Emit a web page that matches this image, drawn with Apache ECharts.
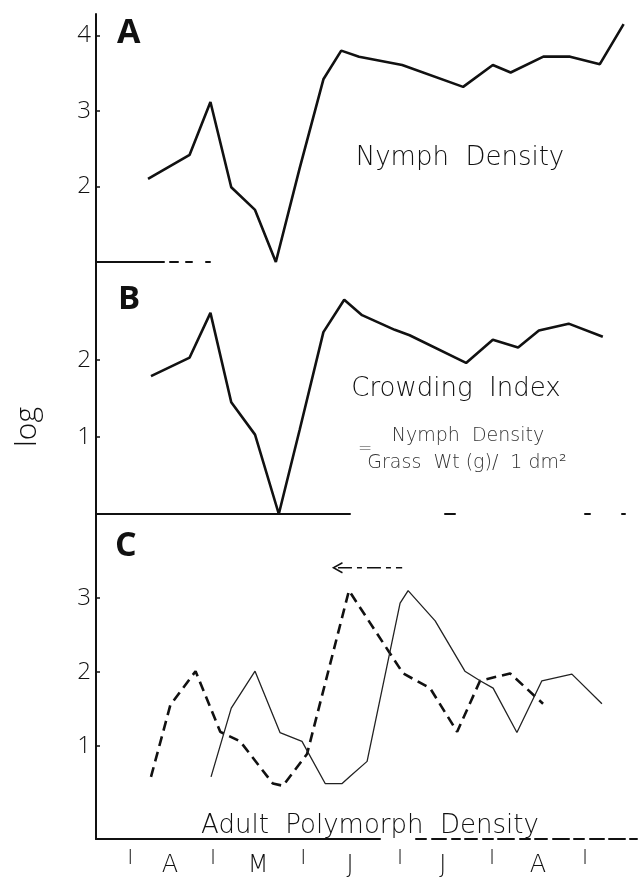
<!DOCTYPE html>
<html>
<head>
<meta charset="utf-8">
<script src="https://cdn.jsdelivr.net/npm/echarts@6/dist/echarts.min.js"></script>
<style>
html,body{margin:0;padding:0;background:#fff;}
#chart{width:639px;height:878px;}
</style>
</head>
<body>
<div id="chart"></div>
<script>
// ---- data (x = day counted from 1 March) ----
const monthTicks = [31, 58.9, 89.2, 121.8, 152.7, 184.0];
const monthLabelPos = [44.4, 74, 105, 136.2, 168.2];
const monthLabels = ['A', 'M', 'J', 'J', 'A'];

// Panel A: Nymph density (log)
const aDays = [37, 51, 58, 65, 73, 80, 88, 96, 102, 108, 122.5, 143, 153, 159, 170, 179, 189, 197];
const aVals = [2.10, 2.42, 3.12, 1.99, 1.69, 1.00, 2.24, 3.42, 3.80, 3.72, 3.61, 3.32, 3.61, 3.51, 3.72, 3.72, 3.62, 4.15];

// Panel B: Crowding index (log)
const bDays = [38, 51, 58, 65, 73, 81, 88, 96, 103, 109, 120, 125, 144, 153, 161.5, 168.5, 178.5, 190];
const bVals = [1.79, 2.03, 2.61, 1.45, 1.03, 0.00, 1.09, 2.36, 2.78, 2.58, 2.39, 2.32, 1.96, 2.26, 2.16, 2.38, 2.47, 2.30];

// Panel C: Adult polymorph density (log)
const cDashDays = [38, 44.5, 53, 61.3, 68, 79, 82.4, 90.5, 104.6, 122.8, 131.9, 141, 148.7, 158.8, 169.9];
const cDashVals = [0.58, 1.55, 2.01, 1.19, 1.06, 0.49, 0.46, 0.89, 3.10, 1.98, 1.78, 1.19, 1.88, 1.98, 1.57];
const cSolidDays = [58.2, 65, 73, 81.4, 88.8, 96.6, 102.3, 105, 110.7, 121.8, 124.5, 133.6, 143.6, 148.7, 153.1, 161.1, 169.5, 179.6, 189.7];
const cSolidVals = [0.58, 1.51, 2.01, 1.18, 1.06, 0.49, 0.49, 0.59, 0.79, 2.93, 3.10, 2.69, 2.01, 1.88, 1.78, 1.18, 1.88, 1.97, 1.57];

// Shift arrow in panel C
const arrowDays = [100.9, 122.5];
const arrowLevel = 3.41;

const yTicksA = [2, 3, 4];
const yTicksB = [1, 2];
const yTicksC = [1, 2, 3];

// ---- chart ----
const INK = '#111';
const FONT = "'Open Sans', 'DejaVu Sans', sans-serif";
const WIDE = "'DejaVu Sans', 'Open Sans', sans-serif";
const pair = (xs, ys) => xs.map((x, i) => [x, ys[i]]);

const X_MIN = 19.5, X_MAX = 201.5;
const grids = [
  {left: 96, top: 14, width: 541, height: 248},
  {left: 96, top: 262, width: 541, height: 252},
  {left: 96, top: 514, width: 541, height: 333}
];

function xAx(gi, dash) {
  return {
    type: 'value', gridIndex: gi, min: X_MIN, max: X_MAX,
    axisLine: {show: true, onZero: false, lineStyle: {color: INK, width: 2, type: dash}},
    axisTick: {show: false}, axisLabel: {show: false}, splitLine: {show: false}
  };
}
function yAx(gi, min, max, ticks) {
  return {
    type: 'value', gridIndex: gi, min: min, max: max,
    axisLine: {show: true, lineStyle: {color: INK, width: 2}},
    axisTick: {show: true, inside: true, length: 4, customValues: ticks, lineStyle: {color: INK, width: 1.5}},
    axisLabel: {show: true, customValues: ticks, margin: 5, color: INK, fontSize: 24, fontWeight: 300, fontFamily: FONT},
    splitLine: {show: false}
  };
}

const xAxes = [
  xAx(0, [68, 6, 8, 8, 6, 14, 4, 700]),
  xAx(1, [254, 95, 10, 130, 5, 32, 3, 200]),
  Object.assign(xAx(2, [284, 36, 10, 6, 14, 6, 8, 5, 12, 6, 10, 5, 16, 6, 10, 5, 12, 6, 16, 5, 10, 6, 14, 5, 16, 5, 40]), {
    axisLabel: {show: true, customValues: monthTicks, formatter: () => 'I', margin: 9,
      color: INK, fontSize: 20, fontWeight: 300, fontFamily: FONT}
  }),
  {
    type: 'value', gridIndex: 2, min: X_MIN, max: X_MAX, position: 'bottom',
    axisLine: {show: false}, axisTick: {show: false}, splitLine: {show: false},
    axisLabel: {show: true, customValues: monthLabelPos, margin: 15, color: INK, fontSize: 24, fontWeight: 200, fontFamily: WIDE,
      formatter: v => { const i = monthLabelPos.findIndex(p => Math.abs(p - v) < 0.01); return i >= 0 ? monthLabels[i] : ''; }}
  }
];
const yAxes = [
  yAx(0, 1, 4.285, yTicksA),
  yAx(1, 0, 3.27, yTicksB),
  yAx(2, -0.26, 4.136, yTicksC)
];

const txt = (text, x, y, font, opts) => ({
  type: 'text', x: x, y: y, silent: true,
  style: Object.assign({text: text, fill: INK, font: font, align: 'center', verticalAlign: 'middle'}, opts || {})
});

const option = {
  backgroundColor: '#fff',
  animation: false,
  grid: grids,
  xAxis: xAxes,
  yAxis: yAxes,
  series: [
    {type: 'line', xAxisIndex: 0, yAxisIndex: 0, data: pair(aDays, aVals), showSymbol: false, symbol: 'none',
      lineStyle: {color: INK, width: 2.6}},
    {type: 'line', xAxisIndex: 1, yAxisIndex: 1, data: pair(bDays, bVals), showSymbol: false, symbol: 'none',
      lineStyle: {color: INK, width: 2.6}},
    {type: 'line', xAxisIndex: 2, yAxisIndex: 2, data: pair(cDashDays, cDashVals), showSymbol: false, symbol: 'none',
      lineStyle: {color: INK, width: 2.6, type: [10, 6]}},
    {type: 'line', xAxisIndex: 2, yAxisIndex: 2, data: pair(cSolidDays, cSolidVals), showSymbol: false, symbol: 'none',
      lineStyle: {color: '#222', width: 1.3}},
    {type: 'line', xAxisIndex: 2, yAxisIndex: 2,
      data: [
        {value: [arrowDays[0], arrowLevel], symbol: 'path://M10,0 L0,5 L10,10', symbolSize: [9, 10],
          itemStyle: {color: 'none', borderColor: INK, borderWidth: 1.5}},
        {value: [arrowDays[1], arrowLevel], symbol: 'none'}
      ],
      showSymbol: true, lineStyle: {color: INK, width: 1.5, type: [14, 5, 5, 5]}}
  ],
  graphic: [
    Object.assign(txt('log', 27, 427, '300 30px ' + FONT), {rotation: Math.PI / 2}),
    txt('A', 117, 33, 'bold 34px ' + FONT, {align: 'left'}),
    txt('B', 118, 300, 'bold 33px ' + FONT, {align: 'left'}),
    txt('C', 115, 546, 'bold 34px ' + FONT, {align: 'left'}),
    txt('Nymph  Density', 460, 158, '200 26px ' + WIDE),
    txt('Crowding  Index', 456, 389, '200 26px ' + WIDE),
    txt('Nymph  Density', 468, 436, '200 19px ' + WIDE, {fill: '#333'}),
    txt('=', 365, 450, '200 17px ' + WIDE, {fill: '#333'}),
    txt('Grass  Wt (g)/  1 dm²', 467, 463, '200 19px ' + WIDE, {fill: '#333'}),
    txt('Adult  Polymorph  Density', 370, 826, '200 26px ' + WIDE)
  ]
};

const chart = echarts.init(document.getElementById('chart'), null, {renderer: 'canvas'});
chart.setOption(option);
</script>
</body>
</html>
